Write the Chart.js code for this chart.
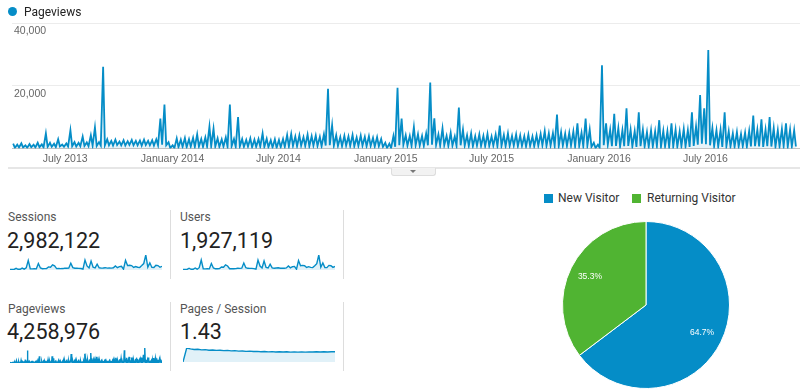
<!DOCTYPE html>
<html>
<head>
<meta charset="utf-8">
<script src="https://cdn.jsdelivr.net/npm/chart.js@4.4.0/dist/chart.umd.min.js"></script>
<style>
  body { margin: 0; width: 800px; height: 391px; position: relative; overflow: hidden; background: #fff; font-family: Roboto, Arial, sans-serif; }
  .abs { position: absolute; white-space: nowrap; }
  .label { font-size: 12px; line-height: 12px; color: #555; }
  .value { font-size: 21.5px; line-height: 22px; color: #222; }
  .sep { position: absolute; width: 1px; background: #ddd; }
  canvas { position: absolute; }
</style>
</head>
<body>

<canvas id="main" width="800" height="173" style="left:0;top:0"></canvas>
<div class="abs" style="left:7.5px;top:7px;width:9px;height:9px;border-radius:50%;background:#058dc7"></div>
<div class="abs" style="left:24px;top:5px;font-size:12px;line-height:14px;color:#222">Pageviews</div>

<!-- range handle under the timeline -->
<div class="abs" style="left:8px;top:167px;width:792px;height:2px;background:#e6e6e6"></div>
<div class="abs" style="left:391px;top:168px;width:43px;height:7px;background:#f2f2f2;border:1px solid #ddd;border-top:0;border-radius:0 0 3px 3px"></div>
<div class="abs" style="left:410px;top:170px;width:0;height:0;border-left:3.5px solid transparent;border-right:3.5px solid transparent;border-top:3.5px solid #777"></div>

<!-- scorecards -->
<div class="abs label" style="left:8px;top:211px">Sessions</div>
<div class="abs value" style="left:7px;top:230px">2,982,122</div>
<canvas id="sparkSessions" width="152" height="16" style="left:10px;top:254px"></canvas>

<div class="abs label" style="left:180px;top:211px">Users</div>
<div class="abs value" style="left:180px;top:230px">1,927,119</div>
<canvas id="sparkUsers" width="152" height="16" style="left:183px;top:254px"></canvas>

<div class="abs label" style="left:8px;top:303px">Pageviews</div>
<div class="abs value" style="left:7px;top:321px">4,258,976</div>
<canvas id="sparkPageviews" width="152" height="16" style="left:10px;top:347px"></canvas>

<div class="abs label" style="left:180px;top:303px">Pages / Session</div>
<div class="abs value" style="left:180px;top:321px">1.43</div>
<canvas id="sparkPages" width="152" height="16" style="left:183px;top:346px"></canvas>

<div class="sep" style="left:170px;top:210px;height:69px"></div>
<div class="sep" style="left:343px;top:210px;height:69px"></div>
<div class="sep" style="left:170px;top:302px;height:69px"></div>
<div class="sep" style="left:343px;top:302px;height:69px"></div>

<!-- pie legend -->
<div class="abs" style="left:544px;top:194px;width:9px;height:9px;background:#058dc7"></div>
<div class="abs" style="left:558px;top:192px;font-size:12px;line-height:13px;color:#333">New Visitor</div>
<div class="abs" style="left:632px;top:194px;width:9px;height:9px;background:#50b432"></div>
<div class="abs" style="left:647px;top:192px;font-size:12px;line-height:13px;color:#333">Returning Visitor</div>
<canvas id="pie" width="168" height="168" style="left:562px;top:221px"></canvas>

<script>
// Pageviews per week: weekday peak and weekend trough, in thousands, first week starts 2013-04-01
const startDate = '2013-04-01';
const weeklyPeaks = [
  1.5, 1.2, 1.6, 1.0, 1.4, 1.2, 1.8, 1.3, 4.8, 1.8,
  1.5, 2.9, 1.2, 1.6, 5.8, 2.0, 1.8, 3.8, 1.9, 4.2,
  6.7, 2.0, 26.0, 2.9, 2.4, 2.8, 2.2, 2.6, 2.3, 2.7,
  2.4, 2.5, 2.8, 2.4, 2.6, 2.9, 9.5, 14.0, 2.0, 1.0,
  3.2, 2.8, 3.3, 2.9, 3.4, 4.5, 3.0, 3.5, 7.0, 6.3,
  3.2, 2.9, 3.5, 14.0, 3.0, 10.0, 3.0, 2.7, 3.2, 2.8,
  3.0, 4.8, 3.1, 2.6, 2.9, 2.7, 3.0, 4.3, 4.6, 3.8,
  4.2, 3.6, 4.4, 3.9, 4.1, 3.7, 4.5, 19.0, 7.4, 4.2,
  3.6, 4.0, 3.8, 4.3, 3.5, 4.1, 3.7, 3.9, 3.4, 3.6,
  3.0, 1.8, 1.5, 4.0, 19.3, 9.5, 4.2, 4.0, 6.8, 4.5,
  4.0, 4.8, 21.0, 9.6, 4.5, 6.4, 4.0, 5.0, 3.8, 13.0,
  6.0, 4.2, 4.8, 3.9, 4.5, 4.0, 4.6, 3.8, 4.4, 7.3,
  4.3, 4.8, 4.0, 4.5, 4.1, 3.9, 4.4, 3.8, 4.2, 4.6,
  5.5, 4.8, 4.9, 10.8, 5.2, 4.7, 5.0, 5.4, 8.0, 5.0,
  9.5, 6.0, 1.8, 1.2, 26.5, 8.0, 6.0, 11.0, 6.5, 5.8,
  12.8, 6.0, 5.5, 11.5, 6.0, 5.2, 5.8, 5.4, 9.0, 5.6,
  5.5, 8.0, 6.0, 5.4, 6.2, 5.8, 11.5, 7.0, 17.0, 12.8,
  31.4, 6.5, 5.8, 6.0, 11.5, 5.5, 4.8, 5.2, 4.6, 5.0,
  5.6, 10.5, 6.0, 9.3, 6.0, 10.0, 6.5, 5.8, 6.2, 8.0,
  6.0, 5.8
];
const weeklyTroughs = [
  0.2, 0.3, 0.3, 0.2, 0.4, 0.3, 0.4, 0.3, 0.5, 0.5,
  0.4, 0.6, 0.5, 0.6, 0.7, 0.6, 0.7, 0.8, 0.7, 0.9,
  0.8, 0.9, 1.0, 1.0, 0.9, 1.1, 1.0, 0.9, 1.1, 1.0,
  1.0, 0.9, 1.1, 1.0, 0.9, 1.0, 1.2, 1.0, 0.1, 0.1,
  0.4, 0.5, 0.4, 0.6, 0.5, 0.6, 0.5, 0.6, 0.7, 0.6,
  0.5, 0.6, 0.5, 0.7, 0.5, 0.6, 0.5, 0.6, 0.4, 0.5,
  0.6, 0.5, 0.4, 0.3, 0.2, 0.4, 0.5, 0.6, 0.8, 0.7,
  0.9, 0.8, 0.7, 0.9, 0.8, 0.7, 0.9, 1.0, 0.9, 0.8,
  0.7, 0.9, 0.8, 0.7, 0.8, 0.9, 0.7, 0.8, 0.6, 0.7,
  0.5, 0.1, 0.1, 0.5, 1.0, 1.2, 0.9, 0.8, 1.0, 0.9,
  0.8, 1.0, 1.2, 1.1, 0.9, 1.0, 0.8, 0.9, 0.8, 1.0,
  0.9, 0.8, 0.7, 0.9, 0.8, 0.7, 0.8, 0.9, 0.7, 0.8,
  0.7, 0.8, 0.9, 0.7, 0.8, 0.6, 0.8, 0.7, 0.9, 1.0,
  0.8, 0.9, 0.8, 0.7, 0.9, 0.8, 0.9, 0.6, 0.8, 0.7,
  0.9, 0.5, 0.1, 0.2, 1.0, 1.2, 0.7, 0.8, 0.6, 0.7,
  0.8, 0.6, 0.5, 0.7, 0.6, 0.5, 0.6, 0.7, 0.5, 0.6,
  0.4, 0.6, 0.5, 0.7, 0.6, 0.5, 0.8, 1.2, 1.5, 1.3,
  1.0, 0.7, 0.6, 0.5, 0.7, 0.6, 0.5, 0.6, 0.7, 0.5,
  0.6, 0.7, 0.6, 0.5, 0.7, 0.6, 0.5, 0.6, 0.7, 0.5,
  0.6, 0.6
];
const axisDates = ['2013-07-01', '2014-01-01', '2014-07-01', '2015-01-01', '2015-07-01', '2016-01-01', '2016-07-01'];
const axisLabels = ['July 2013', 'January 2014', 'July 2014', 'January 2015', 'July 2015', 'January 2016', 'July 2016'];
const yTicks = [0, 20000, 40000];

// scorecard sparklines (thousands / ratio)
const sessionsSpark = [
  0.7, 0.8, 0.8, 2.5, 1.0, 1.1, 2.8, 1.2, 3.2, 14.0,
  1.8, 1.7, 1.8, 1.7, 9.5, 3.0, 1.8, 2.0, 2.1, 4.5,
  4.0, 7.5, 6.0, 2.0, 2.2, 2.0, 2.1, 2.6, 2.5, 2.7,
  10.0, 3.5, 2.6, 2.5, 2.4, 2.2, 1.4, 14.5, 6.0, 3.0,
  13.0, 4.0, 3.0, 8.5, 3.2, 2.8, 3.0, 3.4, 2.8, 2.9,
  2.8, 3.2, 6.0, 3.4, 5.0, 5.5, 1.2, 14.0, 6.5, 7.0,
  6.5, 3.8, 5.0, 4.0, 3.7, 6.5, 9.5, 22.0, 4.2, 10.5,
  3.8, 3.6, 7.0, 6.5, 4.0, 5.5
];
const usersSpark = [
  0.5, 0.55, 0.55, 1.8, 0.7, 0.75, 2.0, 0.8, 2.3, 10.0,
  1.2, 1.1, 1.2, 1.1, 6.5, 2.0, 1.2, 1.3, 1.4, 3.0,
  2.7, 5.2, 4.0, 1.3, 1.4, 1.3, 1.4, 1.7, 1.6, 1.8,
  7.0, 2.3, 1.7, 1.6, 1.6, 1.4, 0.9, 10.0, 4.0, 2.0,
  9.0, 2.6, 2.0, 5.8, 2.1, 1.8, 2.0, 2.2, 1.8, 1.9,
  1.8, 2.1, 4.0, 2.2, 3.3, 3.6, 0.8, 9.5, 4.3, 4.6,
  4.3, 2.5, 3.3, 2.6, 2.4, 4.3, 6.3, 15.0, 2.8, 7.0,
  2.5, 2.4, 4.6, 4.3, 2.6, 3.6
];
const pagesPerSessionSpark = [
  0, 1.85, 1.74, 1.66, 1.68, 1.6, 1.63, 1.56, 1.58, 1.53,
  1.55, 1.5, 1.53, 1.47, 1.5, 1.44, 1.46, 1.41, 1.43, 1.38,
  1.4, 1.36, 1.38, 1.34, 1.37, 1.33, 1.35, 1.32, 1.35, 1.31,
  1.34, 1.31, 1.34, 1.3, 1.34, 1.32, 1.35, 1.32, 1.36, 1.33,
  1.36, 1.35
];

const visitorTypes = ['New Visitor', 'Returning Visitor'];
const visitorShare = [64.7, 35.3];

const BLUE = '#058dc7';
const GREEN = '#50b432';

Chart.defaults.font.family = 'Arial, "Liberation Sans", sans-serif';

function dayOffset(d) {
  return (Date.parse(d) - Date.parse(startDate)) / 86400000;
}

const pageviewPoints = [];
weeklyPeaks.forEach((p, k) => {
  pageviewPoints.push({ x: k * 7 + 2, y: p * 1000 });
  pageviewPoints.push({ x: k * 7 + 5, y: weeklyTroughs[k] * 1000 });
});
const tickDays = axisDates.map(dayOffset);

new Chart(document.getElementById('main'), {
  type: 'line',
  data: {
    datasets: [{
      data: pageviewPoints,
      borderColor: BLUE,
      borderWidth: 1.8,
      backgroundColor: 'rgba(5, 141, 199, 0.1)',
      fill: 'origin',
      pointRadius: 0,
      tension: 0
    }]
  },
  options: {
    responsive: false,
    animation: false,
    layout: { padding: { left: 8, right: 0, top: 23, bottom: 4 } },
    plugins: { legend: { display: false }, tooltip: { enabled: false } },
    scales: {
      x: {
        type: 'linear',
        min: 0,
        max: 1349,
        grid: { display: false, drawTicks: false },
        border: { display: false },
        afterBuildTicks: scale => { scale.ticks = tickDays.map(v => ({ value: v })); },
        ticks: {
          autoSkip: false,
          maxRotation: 0,
          padding: 4,
          color: '#666',
          font: { size: 10.5 },
          callback: (v, i) => axisLabels[i]
        }
      },
      y: {
        min: 0,
        max: 40000,
        afterBuildTicks: scale => { scale.ticks = yTicks.map(v => ({ value: v })); },
        grid: {
          drawTicks: false,
          color: c => (c.tick && c.tick.value === 0 ? '#c4c4c4' : '#ececec')
        },
        border: { display: false },
        ticks: {
          mirror: true,
          padding: 2,
          labelOffset: 8,
          color: '#666',
          font: { size: 10.5 },
          callback: v => (v === 0 ? '' : v.toLocaleString('en-US'))
        }
      }
    }
  }
});

function sparkline(id, points, padTop) {
  const ys = points.map(p => p.y);
  new Chart(document.getElementById(id), {
    type: 'line',
    data: {
      datasets: [{
        data: points,
        borderColor: BLUE,
        borderWidth: 1.4,
        backgroundColor: 'rgba(5, 141, 199, 0.12)',
        fill: 'origin',
        pointRadius: 0,
        tension: 0
      }]
    },
    options: {
      responsive: false,
      animation: false,
      layout: { padding: { top: padTop, bottom: 0, left: 0, right: 0 } },
      plugins: { legend: { display: false }, tooltip: { enabled: false } },
      scales: {
        x: { type: 'linear', display: false, min: points[0].x, max: points[points.length - 1].x },
        y: { display: false, min: 0, max: Math.max(...ys) }
      }
    }
  });
}
const indexed = arr => arr.map((v, i) => ({ x: i, y: v }));

sparkline('sparkSessions', indexed(sessionsSpark), 1);
sparkline('sparkUsers', indexed(usersSpark), 1);
sparkline('sparkPageviews', pageviewPoints, 1);
sparkline('sparkPages', indexed(pagesPerSessionSpark), 2);

const sliceLabels = {
  id: 'sliceLabels',
  afterDatasetsDraw(chart) {
    const ctx = chart.ctx;
    ctx.save();
    ctx.fillStyle = '#fff';
    ctx.font = '8.5px Arial, "Liberation Sans", sans-serif';
    ctx.textAlign = 'center';
    ctx.textBaseline = 'middle';
    chart.getDatasetMeta(0).data.forEach((arc, i) => {
      const { x, y, startAngle, endAngle, outerRadius } =
        arc.getProps(['x', 'y', 'startAngle', 'endAngle', 'outerRadius'], true);
      const mid = (startAngle + endAngle) / 2;
      const r = outerRadius * 0.75;
      ctx.fillText(visitorShare[i].toFixed(1) + '%', x + Math.cos(mid) * r, y + Math.sin(mid) * r);
    });
    ctx.restore();
  }
};

new Chart(document.getElementById('pie'), {
  type: 'pie',
  data: {
    labels: visitorTypes,
    datasets: [{
      data: visitorShare,
      backgroundColor: [BLUE, GREEN],
      borderColor: '#fff',
      borderWidth: 1
    }]
  },
  options: {
    responsive: false,
    animation: false,
    plugins: { legend: { display: false }, tooltip: { enabled: false } }
  },
  plugins: [sliceLabels]
});
</script>
</body>
</html>
